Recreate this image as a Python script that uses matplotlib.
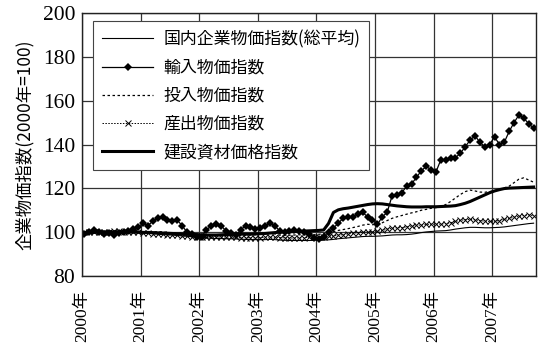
import matplotlib
matplotlib.use('Agg')
import matplotlib.pyplot as plt
import numpy as np

# monthly series, Jan 2000 - Sep 2007 (2000 = 100)
domestic = [
    100.0, 100.0, 100.1, 100.1, 100.1, 100.1, 100.1, 100.1, 100.0, 99.9, 99.8, 99.7,
    99.6, 99.5, 99.3, 99.1, 98.9, 98.8, 98.7, 98.5, 98.3, 98.1, 97.9, 97.7,
    97.5, 97.3, 97.2, 97.1, 97.1, 97.0, 97.0, 96.9, 96.8, 96.7, 96.6, 96.6,
    96.6, 96.6, 96.7, 96.6, 96.4, 96.3, 96.2, 96.2, 96.2, 96.2, 96.2, 96.3,
    96.4, 96.4, 96.5, 96.7, 97.0, 97.2, 97.4, 97.6, 97.8, 98.0, 98.1, 98.1,
    98.2, 98.3, 98.5, 98.7, 98.8, 98.8, 98.9, 99.1, 99.4, 99.8, 100.1, 100.3,
    100.5, 100.6, 100.7, 101.0, 101.4, 101.7, 102.0, 102.2, 102.2, 102.1, 102.0, 102.0,
    102.1, 102.2, 102.4, 102.7, 103.0, 103.3, 103.6, 103.9, 104.1,
]
imports = [
    99.0, 100.0, 101.0, 100.0, 99.0, 99.5, 98.5, 99.5, 100.0, 100.5, 101.5, 102.5,
    104.0, 103.0, 105.0, 106.5, 107.0, 105.5, 105.0, 105.5, 103.0, 100.0, 99.0, 98.0,
    98.0, 101.0, 103.0, 103.5, 103.0, 100.5, 99.5, 98.5, 101.0, 103.0, 102.5, 101.5,
    102.0, 103.0, 104.0, 103.0, 100.5, 100.0, 100.5, 101.0, 100.5, 100.0, 99.0, 97.5,
    97.0, 98.0, 100.0, 102.0, 104.0, 106.5, 107.0, 107.0, 108.5, 109.0, 107.0, 105.5,
    103.5, 107.0, 109.0, 116.5, 117.0, 118.0, 121.0, 122.0, 125.0, 128.0, 130.0, 128.5,
    127.5, 133.0, 133.0, 134.0, 134.0, 136.0, 139.0, 142.0, 144.0, 141.0, 139.0, 140.0,
    143.5, 140.0, 141.0, 146.0, 150.0, 153.5, 152.0, 149.5, 147.5,
]
inputs = [
    100.0, 100.3, 100.6, 100.5, 100.3, 100.5, 100.7, 100.8, 100.6, 100.7, 100.6, 100.4,
    100.3, 100.1, 100.0, 100.1, 100.1, 99.8, 99.5, 99.2, 98.9, 98.5, 98.1, 97.8,
    97.7, 97.8, 98.1, 98.4, 98.6, 98.5, 98.4, 98.3, 98.4, 98.6, 98.7, 98.8,
    99.1, 99.5, 99.7, 99.2, 98.6, 98.5, 98.6, 98.7, 98.8, 98.8, 98.7, 98.8,
    99.0, 99.3, 99.7, 100.2, 100.8, 101.2, 101.6, 102.1, 102.6, 103.2, 103.6, 103.4,
    103.6, 104.3, 105.3, 106.3, 107.0, 107.6, 108.2, 108.8, 109.3, 110.0, 110.4, 110.9,
    111.2, 111.6, 112.6, 114.0, 115.6, 117.2, 118.5, 119.2, 118.8, 118.3, 118.2, 118.5,
    118.9, 119.4, 120.2, 121.0, 122.6, 124.2, 124.8, 123.8, 122.8,
]
outputs = [
    100.0, 100.1, 100.2, 100.2, 100.2, 100.3, 100.4, 100.4, 100.3, 100.2, 100.1, 99.9,
    99.7, 99.5, 99.3, 99.2, 99.0, 98.9, 98.7, 98.6, 98.4, 98.2, 98.0, 97.8,
    97.7, 97.6, 97.6, 97.7, 97.8, 97.8, 97.7, 97.6, 97.5, 97.5, 97.4, 97.4,
    97.5, 97.6, 97.8, 97.7, 97.5, 97.4, 97.3, 97.3, 97.4, 97.5, 97.6, 97.7,
    97.8, 97.9, 98.1, 98.3, 98.6, 98.9, 99.2, 99.5, 99.8, 100.0, 100.2, 100.3,
    100.4, 100.8, 101.3, 101.8, 102.0, 102.1, 102.4, 102.8, 103.1, 103.3, 103.5, 103.6,
    103.6, 103.7, 103.9, 104.3, 104.9, 105.4, 105.7, 105.8, 105.6, 105.3, 105.0, 104.9,
    105.0, 105.3, 105.8, 106.3, 106.8, 107.2, 107.6, 107.9, 107.4,
]
construction = [
    99.6, 99.8, 99.9, 100.0, 100.1, 100.1, 100.1, 100.1, 100.0, 100.0, 100.0, 100.0,
    99.9, 99.9, 99.8, 99.7, 99.6, 99.5, 99.4, 99.3, 99.2, 99.1, 99.0, 98.9,
    98.8, 98.7, 98.7, 98.7, 98.8, 98.9, 99.0, 99.1, 99.1, 99.1, 99.1, 99.2,
    99.3, 99.4, 99.6, 99.8, 100.0, 100.1, 100.2, 100.3, 100.4, 100.5, 100.6, 100.7,
    100.8, 101.0, 104.0, 109.0, 110.2, 110.7, 111.0, 111.4, 111.8, 112.2, 112.6, 112.9,
    113.0, 112.9, 112.6, 112.3, 112.0, 111.8, 111.6, 111.5, 111.5, 111.5, 111.6, 111.6,
    111.6, 111.7, 111.8, 111.9, 112.1, 112.6, 113.2, 114.0, 115.0, 116.0, 117.0, 118.0,
    118.8, 119.4, 119.9, 120.1, 120.2, 120.3, 120.4, 120.5, 120.6,
]
years = ['2000年', '2001年', '2002年', '2003年', '2004年', '2005年', '2006年', '2007年']
labels = ['国内企業物価指数(総平均)', '輸入物価指数', '投入物価指数', '産出物価指数', '建設資材価格指数']

jp = ['Noto Sans CJK JP', 'DejaVu Sans']
# serif digits, the CJK family fills in 年
num = ['Liberation Serif', 'Noto Sans CJK JP']
plt.rcParams['font.family'] = num

n = len(domestic)
x = np.arange(n) + 0.5

fig = plt.figure(figsize=(5.42, 3.45), dpi=100)
ax = fig.add_axes([0.1513, 0.2, 0.8377, 0.7623])

ax.plot(x, domestic, color='black', lw=0.8, label=labels[0])
ax.plot(x, imports, color='black', lw=0.9, marker='D', ms=4.4,
        markerfacecolor='black', markeredgewidth=0, label=labels[1])
ax.plot(x, inputs, color='black', lw=0.9, linestyle=(0, (2, 2)), label=labels[2])
ax.plot(x, outputs, color='black', lw=0.7, linestyle=(0, (1.5, 1.5)), marker='x',
        ms=4.2, markeredgewidth=0.7, label=labels[3])
ax.plot(x, construction, color='black', lw=2.2, label=labels[4])

ax.set_xlim(0, n)
ax.set_ylim(80, 200)
ax.set_yticks(np.arange(80, 201, 20))
ax.set_xticks(np.arange(len(years)) * 12)
ax.set_xticklabels(years, rotation=90)
ax.tick_params(axis='y', labelsize=15.5, pad=5, labelfontfamily=num)
ax.tick_params(axis='x', labelsize=12.5, pad=10, labelfontfamily=num)
ax.tick_params(length=0)
ax.grid(True, color='#333333', lw=0.9)
ax.set_axisbelow(True)
for s in ax.spines.values():
    s.set_color('#222222')
    s.set_linewidth(1.0)

ax.set_ylabel('企業物価指数(2000年=100)', family=jp, fontsize=12.5, labelpad=6)

leg = ax.legend(loc='upper left', bbox_to_anchor=(0.024, 0.97), prop={'family': jp, 'size': 12.2},
                fancybox=False, framealpha=1, edgecolor='#444444', handlelength=3.0,
                labelspacing=0.6, borderpad=0.55, handletextpad=0.6, borderaxespad=0)
leg.get_frame().set_linewidth(0.8)

fig.savefig('out.png', dpi=100)
